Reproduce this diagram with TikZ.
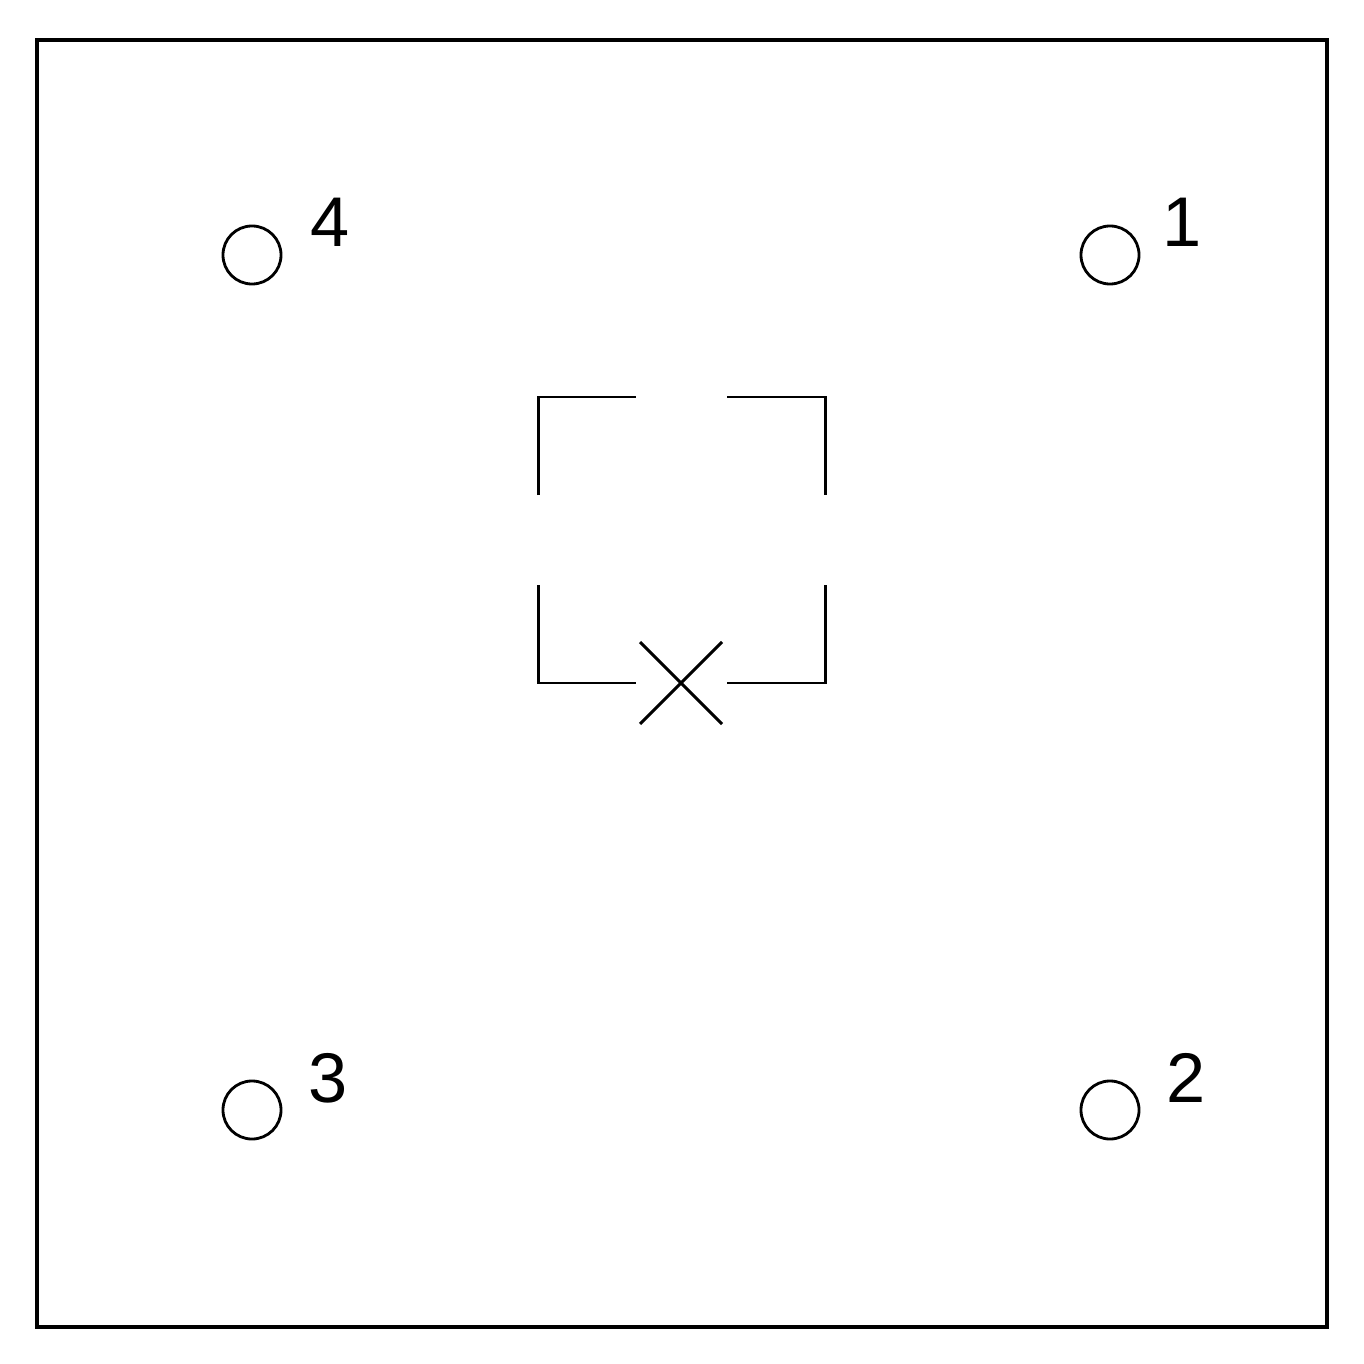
\documentclass[tikz,border=0pt]{standalone}
\usepackage{fontspec}
\setmainfont{Liberation Sans}
\begin{document}
\begin{tikzpicture}[x=0.01cm,y=-0.01cm,
  hole/.style={circle,draw,line width=0.8pt,minimum size=0.58cm,inner sep=0pt},
  lbl/.style={font=\fontsize{20}{24}\selectfont,inner sep=0pt},
  thinline/.style={line width=0.85pt}]
\useasboundingbox (0,0) rectangle (1364,1364);
\draw[line width=1.3pt] (37,40) rectangle (1327,1327);
\node[hole] (h4) at (252,255) {};
\node[hole] (h1) at (1110,255) {};
\node[hole] (h3) at (252,1110) {};
\node[hole] (h2) at (1110,1110) {};
\node[lbl] (l4) at (330,222) {4};
\node[lbl] (l1) at (1182,222) {1};
\node[lbl] (l3) at (328,1078) {3};
\node[lbl] (l2) at (1186,1078) {2};
\draw[thinline] (538,495) -- (538,397) -- (636,397);
\draw[thinline] (727,397) -- (825,397) -- (825,495);
\draw[thinline] (538,585) -- (538,683) -- (636,683);
\draw[thinline] (825,585) -- (825,683) -- (727,683);
\coordinate (xc) at (681,683);
\draw[thinline] (640,642) -- (722,724);
\draw[thinline] (640,724) -- (722,642);
\end{tikzpicture}
\end{document}
